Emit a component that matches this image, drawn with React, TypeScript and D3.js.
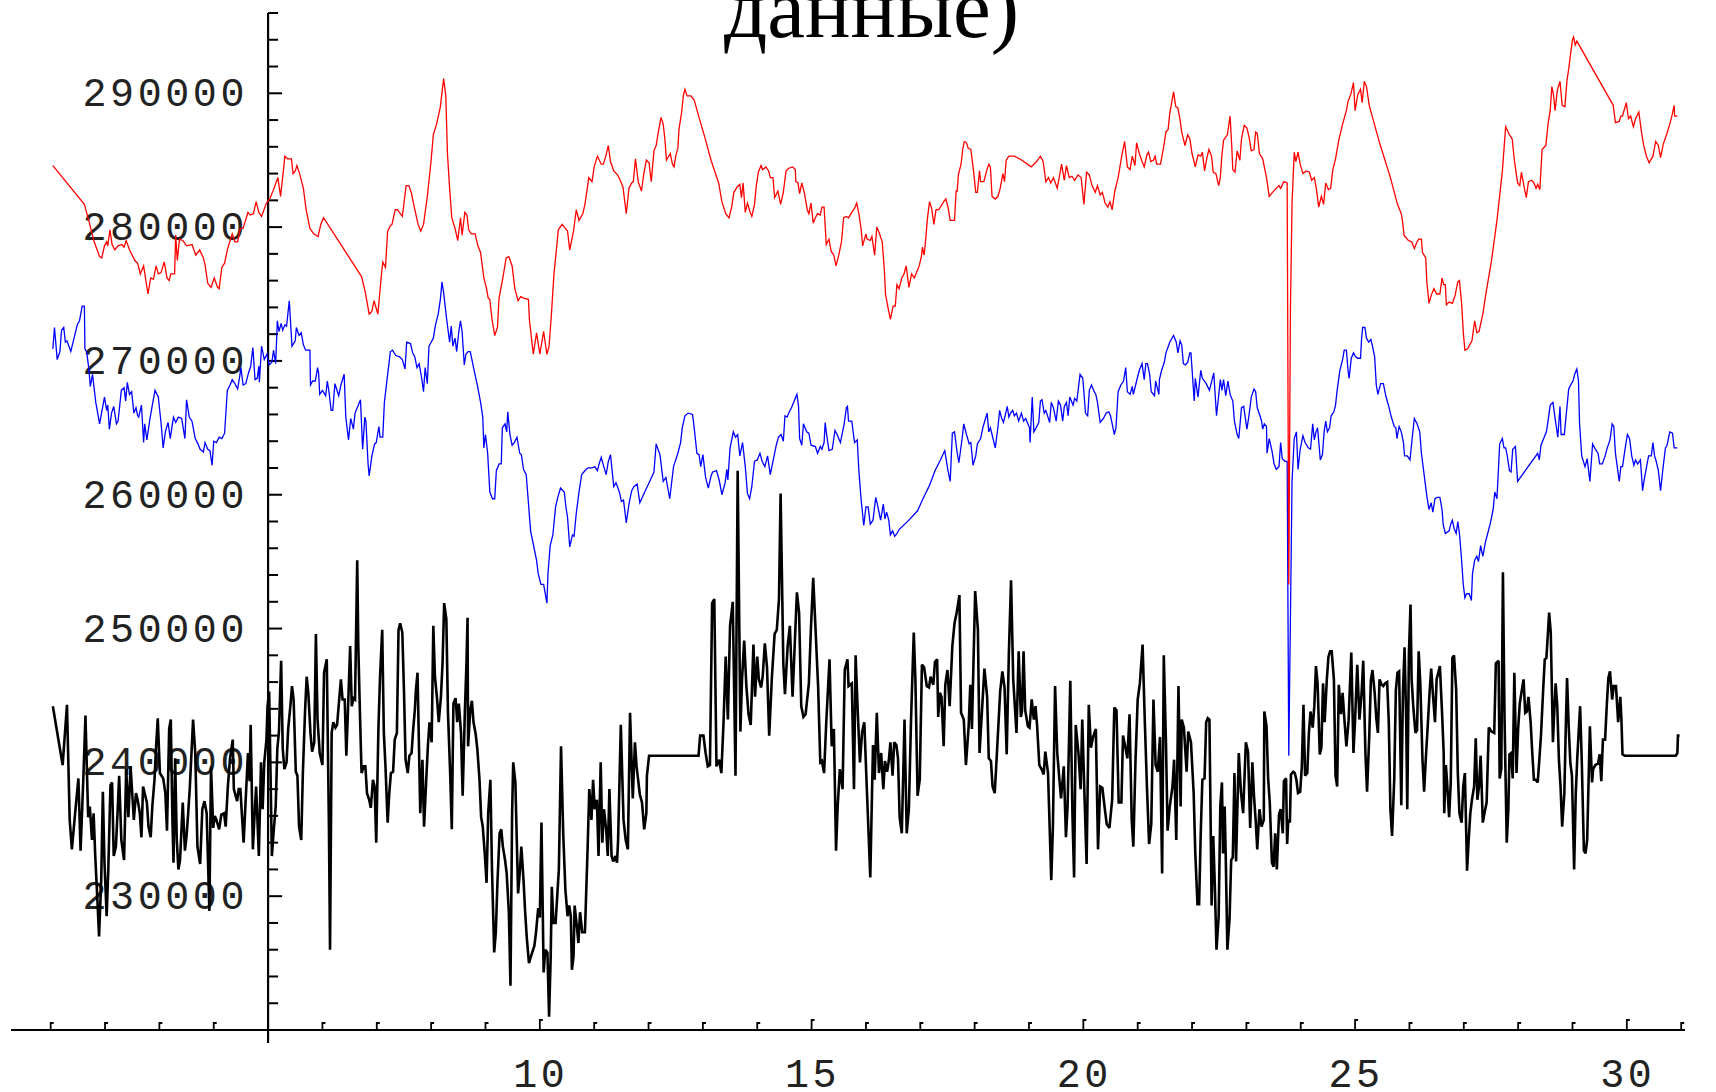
import * as d3 from 'd3'
import { useEffect, useRef } from 'react'

const W = 1716
const H = 1092

const titleText = 'данные)'
const xTickLabels = [10, 15, 20, 25, 30]
const yTickLabels = [230000, 240000, 250000, 260000, 270000, 280000, 290000]

// [day, value]
const red: [number, number][] = [
  [1.04,284600],[1.62,281700],[1.70,280500],[1.80,278900],[1.90,277800],[1.94,277700],[1.99,278600],[2.03,278900],[2.05,278600],[2.09,279800],[2.13,278700],[2.18,278300],[2.24,278600],[2.31,278700],[2.35,278500],[2.39,279000],[2.45,278300],[2.55,277500],[2.60,277300],[2.65,276500],[2.71,277100],[2.79,275000],[2.84,276200],[2.89,276100],[2.94,277100],[2.98,276500],[3.03,276600],[3.09,277400],[3.14,276200],[3.18,276000],[3.21,276500],[3.28,276500],[3.30,279400],[3.33,277500],[3.37,279100],[3.43,279000],[3.50,278600],[3.60,278700],[3.67,277900],[3.74,278300],[3.81,277700],[3.84,277200],[3.89,275800],[3.95,275500],[4.01,276200],[4.07,275500],[4.10,275400],[4.15,277000],[4.20,277300],[4.25,278300],[4.34,279500],[4.39,278900],[4.44,278900],[4.49,279900],[4.54,279900],[4.63,281100],[4.67,280900],[4.73,281000],[4.78,281900],[4.83,281100],[4.88,280800],[4.97,281800],[5.03,282100],[5.10,282800],[5.18,283700],[5.23,282300],[5.31,285300],[5.36,285100],[5.43,285100],[5.46,284000],[5.50,284200],[5.53,284600],[5.58,284000],[5.65,282900],[5.70,281300],[5.77,279900],[5.84,279500],[5.92,279300],[5.97,280200],[6.02,280700],
  [6.72,276300],[6.79,275100],[6.86,273500],[6.91,273700],[6.95,274500],[7.02,273500],[7.08,276200],[7.11,277400],[7.16,277000],[7.20,279700],[7.25,280100],[7.28,280200],[7.34,281300],[7.38,281300],[7.47,280800],[7.54,283100],[7.59,283100],[7.64,282500],[7.69,281500],[7.76,280200],[7.81,279700],[7.86,280200],[7.93,282300],[8.00,285000],[8.04,286900],[8.10,287700],[8.17,289000],[8.23,291100],[8.27,289800],[8.30,285500],[8.34,282900],[8.38,280700],[8.44,279900],[8.49,279000],[8.54,280700],[8.57,279400],[8.62,281100],[8.66,280900],[8.69,279800],[8.74,279500],[8.81,279500],[8.86,278600],[8.91,278100],[8.97,276200],[9.02,275400],[9.05,274700],[9.08,274600],[9.12,273100],[9.17,271900],[9.22,272500],[9.25,274700],[9.32,276200],[9.38,277700],[9.43,277800],[9.49,277100],[9.54,275400],[9.60,274500],[9.65,274800],[9.70,274700],[9.79,274600],[9.81,273000],[9.88,270500],[9.94,272100],[10.00,270500],[10.07,272200],[10.13,270500],[10.17,271100],[10.21,273300],[10.26,276500],[10.31,278500],[10.34,279800],[10.41,280200],[10.47,279900],[10.51,279700],[10.55,278300],[10.62,279700],[10.67,281300],[10.72,280500],[10.79,281000],[10.83,281700],[10.87,282800],[10.90,283700],[10.96,283400],[11.00,284500],[11.06,285300],[11.13,284700],[11.17,284700],[11.22,285400],[11.26,286100],[11.30,284900],[11.36,284200],[11.43,283900],
  [11.48,283500],[11.53,283000],[11.59,281000],[11.64,282900],[11.69,283300],[11.72,283400],[11.76,285100],[11.81,283400],[11.87,282700],[11.91,283900],[11.96,285000],[12.01,284800],[12.05,283400],[12.10,285700],[12.14,286100],[12.18,287100],[12.23,288200],[12.27,287700],[12.30,286600],[12.33,285000],[12.40,285500],[12.44,284700],[12.47,284500],[12.50,285300],[12.54,285900],[12.56,287300],[12.61,288600],[12.64,289800],[12.67,290300],[12.71,289800],[12.78,289800],[12.84,289500],[12.95,287900],[13.05,286500],[13.15,285000],[13.29,283300],[13.35,281900],[13.42,281000],[13.48,280700],[13.53,281500],[13.57,282600],[13.63,283000],[13.68,283200],[13.71,282200],[13.74,283300],[13.78,281100],[13.82,281800],[13.87,281100],[13.90,280800],[13.95,281700],[13.98,283000],[14.02,284100],[14.07,284600],[14.10,284300],[14.16,284500],[14.21,284200],[14.24,283700],[14.29,283700],[14.32,282200],[14.38,282700],[14.43,281700],[14.48,282600],[14.53,284200],[14.58,284400],[14.65,284500],[14.70,284300],[14.71,283400],[14.75,283300],[14.78,282500],[14.82,283300],[14.87,282500],[14.92,281300],[14.95,281000],[14.99,281800],[15.03,280300],[15.07,280700],[15.11,281000],[15.16,280900],[15.19,281500],[15.23,281500],[15.27,278700],[15.32,279100],[15.36,278200],[15.41,277900],[15.45,277100],[15.50,277900],[15.55,278900],[15.59,280700],[15.64,280800],[15.68,280700],[15.74,281100],[15.79,281400],[15.83,281800],[15.87,281000],[15.91,279900],[15.94,278600],[16.00,279500],[16.02,279100],[16.08,279000],[16.11,279300],[16.16,277900],[16.20,280000],[16.25,279500],[16.30,278900],[16.34,276700],[16.36,275000],[16.40,274100],[16.45,273100],[16.50,274100],[16.54,274100],[16.57,275700],[16.61,275400],[16.66,276200],[16.70,276500],[16.74,277100],[16.79,275500],[16.84,276500],[16.89,276200],[16.94,276700],[16.98,277100],[17.02,277800],[17.04,278500],[17.07,277900],[17.10,279100],[17.13,280600],[17.17,281900],[17.21,281400],[17.25,280200],[17.29,281300],[17.34,281300],[17.37,281500],[17.43,281900],[17.47,282100],[17.51,281500],[17.55,280500],[17.63,280500],[17.66,282700],[17.68,282700],[17.70,283900],[17.75,284700],[17.78,285800],[17.81,286400],[17.85,286300],[17.88,285900],[17.93,285800],[17.98,284200],[18.02,282600],[18.05,282600],[18.09,284200],[18.11,283400],[18.17,283400],[18.22,284200],[18.26,284700],[18.29,284500],[18.32,282300],[18.38,282100],[18.43,282300],[18.47,282900],[18.52,284000],[18.55,283400],[18.58,285000],[18.63,285300],[18.73,285300],[18.87,285000],[19.04,284500],[19.14,284900],[19.21,285300],[19.26,284900],[19.31,283400],[19.36,283700],[19.40,283300],[19.45,283700],[19.52,282900],[19.56,283800],[19.60,284700],[19.65,283500],[19.69,284600],[19.74,283700],[19.79,283800],[19.84,283500],[19.90,283900],[19.96,283700],[20.01,281700],[20.06,284100],[20.11,283900],[20.16,283100],[20.22,282600],[20.26,283100],[20.31,282400],[20.35,282600],[20.40,281800],[20.45,281500],[20.49,281900],[20.53,281300],[20.58,282700],[20.64,283700],[20.71,285400],[20.76,286400],[20.81,284500],[20.86,284300],[20.90,285300],[20.95,284600],[20.98,286300],[21.03,285500],[21.08,284900],[21.12,284500],[21.17,285400],[21.20,285600],[21.24,284900],[21.29,285000],[21.32,285300],[21.35,284700],[21.42,284700],[21.47,285800],[21.52,287100],[21.56,287300],[21.59,288500],[21.66,290100],[21.70,289000],[21.74,288900],
  [21.78,288000],[21.81,287100],[21.87,286100],[21.92,286900],[21.96,286600],[22.00,285500],[22.06,284500],[22.11,285400],[22.16,285300],[22.19,285600],[22.23,284200],[22.27,285100],[22.31,285800],[22.36,285300],[22.39,284100],[22.44,284000],[22.49,283100],[22.52,283700],[22.55,285400],[22.58,286500],[22.65,286900],[22.70,288300],[22.73,286100],[22.75,284300],[22.79,284100],[22.83,285700],[22.88,285000],[22.91,286600],[22.96,287600],[23.01,287400],[23.05,286700],[23.09,285700],[23.14,285800],[23.17,287100],[23.20,287000],[23.24,285500],[23.30,285100],[23.37,283700],[23.42,282300],[23.48,282600],[23.60,283100],[23.63,282900],[23.69,283400],[23.75,283300],[23.78,253300],[23.81,273800],[23.84,281800],[23.88,285600],[23.91,284900],[23.95,285600],[23.99,284700],[24.04,284000],[24.10,284200],[24.16,284100],[24.20,283500],[24.25,283700],[24.29,282800],[24.33,281500],[24.38,282300],[24.42,281700],[24.46,283300],[24.51,282800],[24.55,282900],[24.59,284300],[24.64,285100],[24.70,286500],[24.77,287700],[24.84,288700],[24.87,289400],[24.92,289900],[24.97,290800],[25.00,288700],[25.05,289900],[25.10,290300],[25.13,289300],[25.17,290900],[25.21,290500],[25.26,289100],[25.45,286300],[25.65,283700],[25.78,281700],[25.85,281000],[25.88,280200],[25.90,279400],[25.98,279000],[26.04,278900],[26.09,278400],[26.14,278900],[26.17,279100],[26.22,279100],[26.24,278100],[26.30,277700],[26.32,275900],[26.36,274300],[26.40,274900],[26.45,275400],[26.50,275000],[26.56,275000],[26.60,276200],[26.63,275700],[26.66,275700],[26.68,274200],[26.73,274400],[26.79,274300],[26.84,274900],[26.89,275900],[26.92,276000],[26.96,274300],[26.99,272200],[27.02,270800],[27.07,270900],[27.15,271500],[27.20,273000],[27.24,272100],[27.28,272200],[27.35,273500],[27.41,275100],[27.51,277500],[27.61,280500],[27.71,284200],[27.77,287500],[27.84,286900],[27.89,286600],[27.93,285000],[27.99,283300],[28.03,283100],[28.06,284100],[28.11,283000],[28.15,282200],[28.19,283400],[28.25,283500],[28.29,283300],[28.33,282900],[28.36,283200],[28.40,282800],[28.44,285800],[28.51,286100],[28.55,287700],[28.59,288700],[28.62,290500],[28.65,289900],[28.68,288700],[28.72,290200],[28.77,290900],[28.81,289100],[28.86,289000],[28.90,291000],[28.93,291800],[28.96,292800],[29.00,294000],[29.02,294200],[29.05,293600],[29.08,293900],[29.75,289100],[29.79,287800],[29.86,287900],[29.89,288300],[29.92,288300],[29.99,289300],[30.03,288100],[30.07,288300],[30.12,287500],[30.16,288100],[30.22,288600],[30.27,287100],[30.31,286100],[30.36,285300],[30.41,284800],[30.48,285300],[30.53,286400],[30.58,286100],[30.62,285200],[30.67,286200],[30.73,286900],[30.79,287700],[30.84,288500],[30.87,289100],[30.88,288300],[30.93,288300],
]

const blue: [number, number][] = [
  [1.04,270900],[1.07,272500],[1.12,270100],[1.17,270700],[1.20,272300],[1.24,272500],[1.27,271400],[1.30,271500],[1.37,270700],[1.43,271700],[1.49,272700],[1.53,273000],[1.58,274100],[1.62,274100],[1.63,270900],[1.66,270700],[1.70,269500],[1.73,268100],[1.77,269000],[1.83,266900],[1.90,265300],[1.94,266200],[1.99,267300],[2.03,266300],[2.05,266700],[2.08,264900],[2.12,266100],[2.16,266600],[2.21,265300],[2.24,265500],[2.30,267800],[2.35,268000],[2.38,267000],[2.41,268400],[2.45,267500],[2.49,267700],[2.53,266100],[2.57,266500],[2.60,265900],[2.62,265800],[2.67,266700],[2.71,263900],[2.73,265300],[2.77,264100],[2.82,265500],[2.87,266700],[2.92,267800],[2.98,267300],[3.03,265400],[3.07,263500],[3.11,264700],[3.16,265400],[3.20,264200],[3.24,265300],[3.26,265800],[3.30,265400],[3.35,265800],[3.41,265700],[3.47,264200],[3.50,267100],[3.55,265800],[3.60,265500],[3.66,264200],[3.71,263800],[3.75,263400],[3.81,263200],[3.84,263900],[3.89,263400],[3.93,263300],[3.97,262200],[4.00,264000],[4.05,263900],[4.10,264300],[4.15,264200],[4.20,264600],[4.25,267800],[4.30,268200],[4.34,268600],[4.39,268300],[4.44,267900],[4.48,268900],[4.50,269500],[4.54,268200],[4.59,268300],[4.64,269100],[4.68,269600],[4.72,271000],[4.76,268600],[4.80,268700],[4.83,269600],[4.84,268400],[4.88,271100],[4.93,270100],[4.98,270500],[5.02,269700],[5.07,269900],[5.10,270800],[5.14,269800],[5.17,273000],[5.20,272200],[5.24,272800],[5.27,272300],[5.31,272700],[5.34,272600],[5.39,274500],[5.44,271100],[5.50,271500],[5.52,272500],[5.57,271900],[5.61,272100],[5.65,271200],[5.69,270800],[5.77,270800],[5.78,268200],[5.82,268500],[5.87,268500],[5.91,269500],[5.93,269100],[5.95,267500],[6.00,267800],[6.06,267400],[6.09,268500],[6.12,267700],[6.16,266300],[6.19,266300],[6.23,268300],[6.26,267900],[6.30,267400],[6.34,268200],[6.40,269000],[6.43,265800],[6.48,264100],[6.52,265700],[6.57,264900],[6.60,266100],[6.65,266600],[6.70,267100],[6.74,263400],[6.78,265800],[6.80,265500],[6.84,262300],[6.86,261400],[6.91,262900],[6.96,263800],[6.99,263900],[7.04,265100],[7.06,264300],[7.11,264300],[7.14,266900],[7.20,269000],[7.25,270700],[7.29,270800],[7.35,270400],[7.42,270300],[7.47,270100],[7.52,269400],[7.55,271400],[7.62,271300],[7.66,270600],[7.70,270300],[7.74,269500],[7.78,269800],[7.83,268600],[7.86,267700],[7.89,269500],[7.93,268300],[7.96,271100],[8.00,271400],[8.04,271700],[8.08,272700],[8.13,273500],[8.17,274600],[8.20,275900],[8.23,275100],[8.28,273300],[8.34,271400],[8.37,272600],[8.40,271100],[8.44,271700],[8.47,270700],[8.51,272200],[8.54,273000],[8.57,272200],[8.61,269700],[8.64,270500],[8.68,270700],[8.72,270700],[8.78,269500],[8.85,268200],[8.91,266900],[8.95,265800],[8.97,263500],[9.00,264500],[9.04,263100],[9.08,260200],[9.13,259700],[9.17,259700],[9.20,261800],[9.25,262300],[9.29,262300],[9.31,265000],[9.36,265300],[9.39,264700],[9.41,266200],[9.45,264500],[9.49,263700],[9.53,263900],[9.58,264300],[9.63,263100],[9.66,263000],[9.70,261900],[9.75,261500],[9.79,259400],[9.83,257300],[9.88,256300],[9.94,255100],[9.97,254100],[10.02,253300],[10.07,253300],[10.13,251900],[10.15,254100],[10.19,256200],[10.24,257000],[10.29,259100],[10.33,259800],[10.38,260500],[10.45,260200],[10.48,259100],[10.51,258300],[10.55,256100],[10.60,257000],[10.63,256900],[10.67,258600],[10.72,260200],[10.77,261500],[10.81,261700],[10.85,261900],[10.89,262000],[10.96,262000],[11.01,262100],[11.06,261800],[11.09,262300],[11.13,262800],[11.17,262200],[11.22,261500],[11.26,262500],[11.30,263000],[11.33,261800],[11.36,260600],[11.40,260900],[11.43,260600],[11.47,260100],
  [11.50,259500],[11.54,259600],[11.59,257900],[11.64,259300],[11.69,260300],[11.73,260600],[11.79,260800],[11.84,259400],[11.93,260200],[12.01,260900],[12.10,261700],[12.14,263800],[12.21,263000],[12.27,261000],[12.32,261300],[12.39,259700],[12.46,262100],[12.54,263100],[12.59,263900],[12.62,265000],[12.67,265900],[12.73,266100],[12.81,266000],[12.84,265000],[12.89,263100],[12.93,263000],[12.96,262100],[13.00,263000],[13.05,261300],[13.10,260500],[13.15,261400],[13.18,261700],[13.25,261800],[13.30,261100],[13.35,260000],[13.41,260900],[13.44,261900],[13.46,261100],[13.50,263500],[13.56,264700],[13.60,264300],[13.64,264500],[13.68,262900],[13.73,263900],[13.78,262100],[13.82,260100],[13.86,259700],[13.90,260600],[13.95,262500],[14.00,262600],[14.05,263100],[14.09,262500],[14.14,262100],[14.19,262900],[14.24,261500],[14.27,262100],[14.31,262900],[14.35,263700],[14.39,264300],[14.44,264500],[14.48,264000],[14.51,265900],[14.55,265800],[14.59,266200],[14.63,266500],[14.68,267000],[14.73,267500],[14.76,266600],[14.78,264200],[14.82,263700],[14.85,265300],[14.91,264700],[14.95,264600],[14.99,263700],[15.07,263600],[15.11,263100],[15.16,263600],[15.19,263400],[15.23,263900],[15.25,265400],[15.27,264700],[15.32,263300],[15.38,263400],[15.43,264800],[15.47,264500],[15.53,263900],[15.57,264700],[15.60,265300],[15.64,266500],[15.66,266600],[15.68,265500],[15.74,265500],[15.79,263900],[15.84,264100],[15.87,261800],[15.91,259700],[15.96,257700],[16.00,259100],[16.04,259100],[16.08,257800],[16.13,258100],[16.18,259800],[16.21,259300],[16.27,258100],[16.32,259300],[16.35,258200],[16.38,258700],[16.42,258100],[16.45,257000],[16.49,257300],[16.53,256900],[16.57,257100],[16.61,257400],[16.79,258100],[16.95,258800],[17.06,259800],[17.17,260700],[17.27,261800],[17.37,262600],[17.45,263300],[17.51,261800],[17.55,261000],[17.59,264600],[17.63,264700],[17.68,263100],[17.71,262400],[17.77,264200],[17.80,265300],[17.85,264500],[17.90,263800],[17.93,263900],[17.97,262200],[18.02,262900],[18.05,263800],[18.11,264200],[18.15,265000],[18.20,265700],[18.23,266100],[18.26,264700],[18.29,265000],[18.32,264500],[18.38,263500],[18.43,265100],[18.46,266300],[18.49,265800],[18.53,265400],[18.56,265900],[18.60,266600],[18.63,265800],[18.66,266100],[18.70,266300],[18.73,265900],[18.77,266100],[18.81,265500],[18.86,266100],[18.90,265500],[18.94,265700],[18.97,265400],[19.01,265000],[19.02,263900],[19.06,267300],[19.09,264700],[19.13,265000],[19.18,265400],[19.21,267000],[19.24,267100],[19.28,266100],[19.31,266300],[19.35,265800],[19.38,265400],[19.41,266900],[19.45,266500],[19.50,265500],[19.54,267000],[19.58,266700],[19.62,265500],[19.65,266600],[19.69,266900],[19.72,265900],[19.75,267300],[19.81,266700],[19.84,267200],[19.88,267000],[19.94,269000],[19.99,268700],[20.04,266100],[20.08,265900],[20.11,267800],[20.15,268200],[20.20,267700],[20.23,267500],[20.26,266900],[20.31,265400],[20.37,265700],[20.42,266100],[20.47,266200],[20.50,265900],[20.54,265100],[20.57,264500],[20.60,265000],[20.64,267700],[20.69,268200],[20.74,268500],[20.78,269500],[20.81,267700],[20.86,267500],[20.90,268100],[20.92,267500],[20.98,268500],[21.03,269300],[21.08,269800],[21.12,268600],[21.15,269800],[21.18,269800],[21.22,269000],[21.25,267700],[21.31,267400],[21.33,268500],[21.39,267500],[21.40,268600],[21.44,269300],[21.49,269900],[21.52,270600],[21.59,271400],[21.66,271900],[21.71,271400],[21.74,270600],
  [21.78,271500],[21.81,271200],[21.84,269800],[21.88,269700],[21.92,269900],[21.96,270600],[21.98,270600],[22.04,267000],[22.06,268700],[22.11,267300],[22.16,269300],[22.19,268700],[22.26,268300],[22.32,267800],[22.40,269100],[22.45,265900],[22.49,267400],[22.52,268600],[22.55,267800],[22.58,268600],[22.62,267400],[22.66,268500],[22.70,267500],[22.75,267000],[22.78,265500],[22.83,264500],[22.86,264200],[22.91,266500],[22.95,266600],[23.01,264900],[23.04,265700],[23.09,267300],[23.14,267900],[23.17,267700],[23.20,266500],[23.25,265900],[23.28,265500],[23.30,264900],[23.33,265300],[23.37,265100],[23.38,263100],[23.42,264200],[23.47,263300],[23.51,262300],[23.55,261900],[23.60,262100],[23.63,263900],[23.66,262700],[23.71,262500],[23.75,262500],[23.78,240500],[23.84,261000],[23.88,264200],[23.92,264700],[23.95,261900],[23.99,263400],[24.04,264400],[24.08,263900],[24.14,263500],[24.18,263400],[24.22,265300],[24.25,264100],[24.28,264700],[24.31,265000],[24.36,262600],[24.40,263000],[24.43,264700],[24.46,265500],[24.49,264700],[24.53,265000],[24.56,265900],[24.61,266200],[24.64,266700],[24.67,267800],[24.72,269300],[24.77,270100],[24.80,270800],[24.84,270800],[24.87,269300],[24.89,268700],[24.93,270200],[24.97,270600],[25.01,270300],[25.05,270200],[25.10,270200],[25.12,271700],[25.14,272500],[25.18,272500],[25.21,271700],[25.25,271400],[25.29,271600],[25.32,271100],[25.36,270300],[25.39,268200],[25.42,267500],[25.47,268300],[25.52,268300],[25.57,267300],[25.62,266600],[25.66,265900],[25.72,265100],[25.75,265000],[25.77,264200],[25.81,265100],[25.85,264700],[25.89,263900],[25.91,262900],[25.96,262900],[26.01,262600],[26.05,264200],[26.09,265700],[26.14,265300],[26.19,264700],[26.22,263100],[26.27,261500],[26.32,259900],[26.36,258900],[26.40,259400],[26.43,258700],[26.47,259700],[26.51,259800],[26.56,259800],[26.60,258900],[26.62,257800],[26.66,257100],[26.73,257300],[26.76,257800],[26.79,258100],[26.82,257500],[26.86,257100],[26.89,258000],[26.92,257100],[26.96,255100],[26.99,253300],[27.02,252300],[27.05,252600],[27.10,252600],[27.14,252100],[27.16,254100],[27.20,255100],[27.24,255400],[27.27,255000],[27.31,256200],[27.35,255400],[27.40,256500],[27.44,257100],[27.49,257900],[27.54,258900],[27.57,260200],[27.61,259700],[27.64,262100],[27.66,263800],[27.71,264200],[27.74,263500],[27.77,263500],[27.80,262900],[27.84,261800],[27.87,261700],[27.90,263400],[27.95,263600],[27.99,261000],[28.36,263100],[28.39,262600],[28.42,263700],[28.47,264200],[28.52,264700],[28.55,265500],[28.59,266700],[28.64,266900],[28.68,265700],[28.73,264300],[28.77,266600],[28.79,264500],[28.85,264500],[28.88,265800],[28.93,267900],[28.98,268300],[29.01,268500],[29.04,269000],[29.08,269400],[29.11,268500],[29.13,265300],[29.17,262900],[29.23,262100],[29.27,262700],[29.32,261000],[29.37,263800],[29.42,263400],[29.47,263100],[29.50,262300],[29.55,262300],[29.60,262900],[29.64,263500],[29.69,264100],[29.73,265300],[29.76,265100],[29.79,263100],[29.83,261900],[29.86,261000],[29.89,262100],[29.92,262100],[29.97,263500],[30.01,264500],[30.05,264200],[30.09,262900],[30.13,262200],[30.16,262600],[30.20,262300],[30.25,262600],[30.29,260300],[30.31,260900],[30.35,261800],[30.40,262900],[30.45,262900],[30.48,263900],[30.51,262900],[30.54,262500],[30.58,261800],[30.62,260300],[30.66,261800],[30.71,263500],[30.74,263700],[30.79,264700],[30.84,264600],[30.87,263500],[30.93,263500],
]

const black: [number, number][] = [
  [1.04,244200],[1.22,239800],[1.30,244300],[1.35,235700],[1.39,233500],[1.45,236200],[1.51,238800],[1.55,233400],[1.60,238700],[1.64,243500],[1.69,235900],[1.72,236700],[1.76,234200],[1.79,236200],[1.82,233000],[1.86,229700],[1.89,227000],[1.93,231200],[1.96,237800],[1.99,232500],[2.03,228500],[2.06,232000],[2.10,238300],[2.13,238500],[2.16,233000],[2.20,233700],[2.23,236200],[2.26,239000],[2.30,234200],[2.35,232700],[2.39,239500],[2.43,235900],[2.47,239700],[2.50,237700],[2.53,235700],[2.57,237700],[2.60,237200],[2.64,236200],[2.67,234400],[2.70,238200],[2.74,237500],[2.77,237000],[2.80,235200],[2.84,234400],[2.87,236700],[2.91,238700],[2.94,241200],[2.97,243300],[3.01,239200],[3.04,239000],[3.07,238800],[3.11,237700],[3.14,234900],[3.18,242500],[3.21,243200],[3.24,235700],[3.26,232500],[3.29,240300],[3.32,234200],[3.35,232000],[3.38,232700],[3.43,237000],[3.47,233400],[3.50,234500],[3.53,236200],[3.56,238100],[3.62,243200],[3.66,240700],[3.70,233700],[3.75,232400],[3.79,236500],[3.83,237100],[3.87,236200],[3.92,228900],[3.95,239700],[3.99,235100],[4.02,236000],[4.05,235700],[4.10,235000],[4.14,236100],[4.19,236200],[4.22,235200],[4.26,238200],[4.30,240300],[4.35,241700],[4.37,238000],[4.43,237100],[4.46,238000],[4.49,238000],[4.55,234000],[4.60,238200],[4.63,240700],[4.66,238600],[4.68,242800],[4.72,233500],[4.75,236000],[4.78,238200],[4.83,233000],[4.87,240000],[4.90,236500],[4.93,240000],[4.97,241700],[4.99,244200],[5.02,245300],[5.07,233000],[5.10,234700],[5.14,236700],[5.17,241000],[5.20,242300],[5.24,247600],[5.27,241000],[5.30,239500],[5.34,240000],[5.37,242500],[5.41,244200],[5.44,245700],[5.47,244700],[5.51,239300],[5.54,239000],[5.57,235200],[5.61,234200],[5.64,239200],[5.68,243800],[5.71,246400],[5.74,245200],[5.78,242200],[5.81,240800],[5.85,241500],[5.88,249600],[5.91,243200],[5.95,240700],[6.00,239800],[6.03,246700],[6.08,247700],[6.12,235000],[6.14,226000],[6.17,242200],[6.20,243000],[6.24,242600],[6.27,242800],[6.30,244300],[6.34,246200],[6.37,244700],[6.41,244700],[6.44,240500],[6.47,243900],[6.51,248700],[6.54,244200],[6.57,244800],[6.60,244700],[6.64,255100],[6.66,248700],[6.69,243700],[6.72,239200],[6.76,239700],[6.79,239700],[6.82,237700],[6.86,237200],[6.89,236600],[6.93,238700],[6.96,238200],[6.99,234000],[7.03,242500],[7.06,246400],[7.10,249900],[7.13,242200],[7.16,239700],[7.20,235500],[7.23,237700],[7.26,239200],[7.30,239300],[7.33,241700],[7.37,242200],[7.40,249900],[7.43,250400],[7.47,249700],[7.50,245400],[7.53,240200],[7.57,239200],[7.60,240500],[7.64,240700],[7.67,242500],[7.70,243900],[7.72,245400],[7.75,246700],[7.77,242500],[7.80,236200],[7.84,240200],[7.87,235200],[7.91,238700],[7.94,241200],[7.97,243000],[8.01,241500],[8.04,250200],[8.07,246400],[8.11,244700],[8.14,243000],[8.18,244900],[8.21,247400],[8.24,251900],[8.28,250700],[8.31,243700],[8.35,239200],[8.38,235000],[8.41,244400],[8.45,244800],[8.48,243000],[8.51,244400],[8.55,242200],[8.58,237500],[8.62,243700],[8.65,247400],[8.67,250800],[8.68,241200],[8.72,243900],[8.75,244600],[8.78,243000],[8.82,242100],[8.85,241000],[8.89,238700],[8.92,235900],[8.95,235200],[8.99,233000],[9.02,231000],[9.05,236200],[9.09,238700],[9.12,232000],[9.16,225800],[9.19,227300],[9.22,231000],[9.26,234700],[9.29,235000],[9.32,233700],[9.36,232700],[9.39,231700],[9.43,228800],[9.46,223300],[9.49,236200],[9.51,240000],[9.55,238500],[9.60,230200],[9.63,231700],[9.66,233700],[9.70,231200],[9.73,228800],[9.76,226900],[9.80,225000],[9.83,225400],[9.90,226300],[9.93,227300],[9.97,229100],[10.00,228400],[10.03,235500],[10.07,224300],[10.10,226000],[10.14,225800],[10.17,221000],[10.20,225500],[10.22,230700],[10.25,228000],[10.29,228000],[10.32,230000],[10.35,232000],[10.39,241200],[10.43,234700],[10.47,230500],[10.51,228500],[10.54,229300],[10.57,228500],[10.59,224500],[10.62,225500],[10.64,229300],[10.68,227800],[10.71,226500],[10.74,228800],[10.78,227300],[10.83,227300],[10.88,233700],[10.91,238000],[10.95,235700],[10.98,238700],[11.01,236500],[11.05,237200],[11.08,233000],[11.12,240000],[11.15,234000],[11.18,236500],[11.22,235000],[11.25,233000],[11.28,238000],[11.32,233000],[11.35,232600],[11.39,233000],[11.42,232500],
  [11.44,234200],[11.49,242800],[11.54,235700],[11.58,234200],[11.62,233500],[11.66,243700],[11.71,237300],[11.75,241500],[11.78,239700],[11.84,237600],[11.88,237000],[11.92,235000],[11.96,236200],[11.97,239000],[12.01,240500],[12.92,240500],[12.95,242000],[13.01,242000],[13.05,240700],[13.09,239700],[13.13,239800],[13.17,251900],[13.21,252200],[13.25,239700],[13.30,240200],[13.34,239200],[13.38,243000],[13.42,247900],[13.46,243200],[13.50,250200],[13.55,252000],[13.60,239000],[13.64,261800],[13.69,242300],[13.72,246200],[13.76,249100],[13.80,245700],[13.84,243600],[13.88,242800],[13.93,248800],[13.96,244900],[14.00,247900],[14.03,246200],[14.07,245600],[14.10,246400],[14.14,248900],[14.18,247100],[14.22,242000],[14.27,246400],[14.32,249600],[14.36,249900],[14.40,252200],[14.43,260100],[14.48,247400],[14.51,245100],[14.56,248700],[14.60,250200],[14.65,244900],[14.69,248800],[14.73,252700],[14.77,251200],[14.81,244200],[14.85,243400],[14.89,243600],[14.95,245900],[14.99,250200],[15.03,253800],[15.07,250200],[15.12,245700],[15.16,240000],[15.19,240100],[15.23,239200],[15.27,243000],[15.33,247700],[15.37,241200],[15.41,242500],[15.45,233400],[15.48,236700],[15.52,239500],[15.57,238000],[15.61,246900],[15.66,247700],[15.68,245700],[15.74,245900],[15.78,238000],[15.81,248000],[15.85,243700],[15.89,240000],[15.93,242300],[15.97,243000],[16.01,238700],[16.08,231400],[16.13,241300],[16.16,238700],[16.20,243700],[16.24,239200],[16.28,240700],[16.32,238000],[16.35,240100],[16.39,239300],[16.42,240100],[16.45,241500],[16.49,239000],[16.52,241500],[16.56,241300],[16.59,240300],[16.62,235900],[16.66,234700],[16.71,243200],[16.75,234700],[16.79,236500],[16.83,243200],[16.88,249700],[16.91,246200],[16.95,237500],[16.99,238700],[17.03,247300],[17.07,247100],[17.12,245700],[17.16,245600],[17.19,246400],[17.24,245800],[17.27,247500],[17.31,247700],[17.33,243400],[17.36,245200],[17.39,244900],[17.43,241200],[17.46,245800],[17.50,246900],[17.54,244200],[17.59,248700],[17.63,250400],[17.67,251200],[17.72,252500],[17.75,243700],[17.80,243200],[17.84,239800],[17.89,242700],[17.92,245800],[17.95,242500],[18.01,252800],[18.06,249900],[18.09,240700],[18.14,244200],[18.18,247000],[18.23,244900],[18.26,240300],[18.30,240100],[18.33,238200],[18.37,237700],[18.41,240700],[18.47,245300],[18.51,246800],[18.55,245600],[18.59,240600],[18.63,248200],[18.67,253600],[18.71,246200],[18.77,242200],[18.81,248300],[18.85,243400],[18.87,243800],[18.90,248300],[18.93,243900],[18.98,242700],[19.01,242600],[19.05,244700],[19.09,243200],[19.12,244200],[19.15,242700],[19.19,239800],[19.23,239500],[19.27,239100],[19.30,240800],[19.35,239200],[19.41,231200],[19.44,235200],[19.48,245700],[19.52,240700],[19.56,238700],[19.59,237300],[19.64,239700],[19.68,234400],[19.71,236700],[19.76,246100],[19.80,236000],[19.83,231400],[19.86,242800],[19.91,240700],[19.95,238000],[19.98,243200],[20.02,237700],[20.06,232400],[20.10,244300],[20.14,241100],[20.18,241900],[20.23,242500],[20.27,233500],[20.31,238200],[20.35,238100],[20.39,236700],[20.43,235400],[20.48,235100],[20.53,237200],[20.57,244100],[20.61,243900],[20.65,237000],[20.70,237000],[20.73,242000],[20.77,241200],[20.81,240300],[20.85,243600],[20.89,235700],[20.92,233700],[20.96,240200],[21.00,244700],[21.04,245900],[21.09,248800],[21.13,243200],[21.17,238200],[21.21,233900],[21.25,235400],[21.29,244700],[21.33,239800],[21.37,239300],[21.41,241900],[21.45,231700],[21.48,248000],[21.52,241500],[21.55,234900],[21.59,236700],[21.64,238200],[21.67,240200],[21.71,234200],[21.75,245700],[21.79,236700],
  [21.81,243200],[21.85,242600],[21.90,239300],[21.93,242300],[21.98,241500],[22.03,237700],[22.06,233200],[22.10,229400],[22.13,229400],[22.16,234700],[22.19,238700],[22.23,238800],[22.26,243000],[22.29,243300],[22.32,243200],[22.36,229300],[22.39,234500],[22.42,230700],[22.45,226000],[22.49,228500],[22.52,236700],[22.55,238500],[22.57,233200],[22.60,236700],[22.62,233000],[22.65,226000],[22.69,228300],[22.72,232700],[22.75,232900],[22.78,239200],[22.81,232600],[22.86,240700],[22.90,237800],[22.94,236200],[22.99,241500],[23.03,240800],[23.07,235100],[23.11,240000],[23.14,237500],[23.17,235700],[23.20,233500],[23.24,236500],[23.28,235200],[23.32,235700],[23.33,243800],[23.37,242700],[23.40,238800],[23.43,237000],[23.47,232500],[23.50,232200],[23.53,234700],[23.56,232000],[23.60,236100],[23.63,236500],[23.67,234700],[23.69,238600],[23.73,238800],[23.75,233900],[23.77,235700],[23.80,235500],[23.82,239100],[23.86,239300],[23.89,239200],[23.92,238700],[23.95,237700],[23.99,237800],[24.02,239700],[24.05,244300],[24.08,239000],[24.12,239200],[24.15,242200],[24.18,243800],[24.22,242600],[24.25,244200],[24.28,247200],[24.31,245900],[24.35,240600],[24.38,241100],[24.41,245900],[24.44,243000],[24.48,246200],[24.51,247900],[24.54,248300],[24.57,248300],[24.61,246200],[24.64,239000],[24.67,238200],[24.70,245800],[24.74,243600],[24.77,245200],[24.80,243400],[24.84,241200],[24.88,243100],[24.93,248200],[24.97,240700],[25.00,243200],[25.04,247300],[25.08,243200],[25.12,245200],[25.15,247600],[25.19,240700],[25.22,237800],[25.26,241900],[25.29,246100],[25.32,246900],[25.36,245200],[25.39,243300],[25.42,242200],[25.45,246200],[25.49,245800],[25.52,245700],[25.55,245900],[25.59,246000],[25.62,243000],[25.65,236500],[25.68,234500],[25.72,238700],[25.75,245400],[25.78,246700],[25.81,246800],[25.85,236800],[25.88,245200],[25.91,248600],[25.94,243200],[25.96,236500],[25.99,248100],[26.02,251800],[26.04,246200],[26.07,244200],[26.11,242200],[26.14,242400],[26.17,248300],[26.20,245900],[26.24,240200],[26.27,237800],[26.30,240200],[26.34,243000],[26.37,245200],[26.40,247000],[26.43,245200],[26.47,243000],[26.50,246200],[26.53,246700],[26.56,247200],[26.60,243700],[26.63,240700],[26.64,236200],[26.67,239800],[26.69,238700],[26.73,235900],[26.76,238500],[26.79,247800],[26.82,248000],[26.86,245400],[26.89,239200],[26.92,236200],[26.96,235500],[26.99,238200],[27.02,239200],[27.06,231900],[27.09,234200],[27.12,236200],[27.15,237200],[27.19,238200],[27.22,241800],[27.25,237200],[27.28,238200],[27.31,240500],[27.35,235500],[27.38,236200],[27.42,237000],[27.46,242600],[27.51,242300],[27.56,242200],[27.59,247400],[27.64,247600],[27.66,238800],[27.69,239500],[27.72,254200],[27.75,243200],[27.79,234000],[27.82,236500],[27.84,240600],[27.87,240700],[27.90,238800],[27.93,246700],[27.97,239200],[28.00,242500],[28.03,244400],[28.06,245200],[28.10,246200],[28.13,243700],[28.16,243800],[28.19,244900],[28.23,243000],[28.26,240700],[28.29,238700],[28.32,238700],[28.36,238500],[28.39,240200],[28.42,242000],[28.46,245400],[28.49,247700],[28.52,247800],[28.55,249800],[28.57,251200],[28.60,249700],[28.64,241500],[28.66,243400],[28.69,245900],[28.72,244200],[28.75,240200],[28.78,238200],[28.81,235200],[28.85,237700],[28.88,243200],[28.90,246300],[28.93,242700],[28.96,240000],[28.99,239000],[29.03,232000],[29.06,237700],[29.09,240500],[29.14,244200],[29.17,240200],[29.21,233400],[29.24,233200],[29.27,234200],[29.32,242700],[29.36,238500],[29.38,239500],[29.42,239800],[29.47,239900],[29.50,240600],[29.53,238600],[29.56,241700],[29.60,241700],[29.63,244200],[29.66,246300],[29.69,246800],[29.73,244700],[29.76,245700],[29.80,245700],[29.84,243000],[29.88,244900],[29.90,243200],[29.92,240600],[29.96,240500],[30.90,240500],[30.93,240700],[30.94,242000],[30.97,242000],
]

export default function App() {
  const ref = useRef<SVGSVGElement>(null)

  useEffect(() => {
    const svg = d3.select(ref.current)
    svg.selectAll('*').remove()

    const x = d3.scaleLinear().domain([0.27, 31.07]).range([11, 1685])
    const y = d3.scaleLinear().domain([220000, 296000]).range([1030, 13])
    const x0 = x(5)
    const y0 = y(220000)

    // title (only its last line falls inside the picture)
    svg.append('text')
      .attr('x', 724)
      .attr('y', 37)
      .attr('font-family', '"Liberation Serif", "Times New Roman", serif')
      .attr('font-size', 85)
      .attr('fill', 'black')
      .text(titleText)

    // tick labels sit under the lines
    const labelFont = '"Liberation Mono", "Courier New", monospace'
    svg.append('g')
      .selectAll('text')
      .data(yTickLabels)
      .join('text')
      .attr('x', x0 - 20)
      .attr('y', d => y(d) + 13)
      .attr('text-anchor', 'end')
      .attr('font-family', labelFont)
      .attr('font-size', 40)
      .attr('letter-spacing', 3.6)
      .attr('fill', '#222')
      .text(d => String(d))

    svg.append('g')
      .selectAll('text')
      .data(xTickLabels)
      .join('text')
      .attr('x', d => x(d) + 1)
      .attr('y', y0 + 57)
      .attr('text-anchor', 'middle')
      .attr('font-family', labelFont)
      .attr('font-size', 40)
      .attr('letter-spacing', 3.6)
      .attr('fill', '#222')
      .text(d => String(d))

    // axes
    const axes = svg.append('g').attr('stroke', 'black').attr('fill', 'none')
    axes.append('line')
      .attr('x1', x(0.27)).attr('x2', x(31.07))
      .attr('y1', y0).attr('y2', y0)
      .attr('stroke-width', 2.2)
    axes.append('line')
      .attr('x1', x0).attr('x2', x0)
      .attr('y1', y(296000)).attr('y2', y0 + 13)
      .attr('stroke-width', 2.2)

    const xTicks = d3.range(1, 32).filter(d => d !== 5)
    axes.selectAll('path.xt')
      .data(xTicks)
      .join('path')
      .attr('class', 'xt')
      .attr('stroke-width', 1.8)
      .attr('d', d => {
        const h = xTickLabels.includes(d) ? 10 : 7
        return `M${x(d)},${y0} V${y0 - h} h3`
      })

    const yTicks = d3.range(222000, 296001, 2000)
    axes.selectAll('line.yt')
      .data(yTicks)
      .join('line')
      .attr('class', 'yt')
      .attr('stroke-width', 2)
      .attr('x1', x0)
      .attr('x2', d => x0 + (d % 10000 === 0 ? 14 : 10))
      .attr('y1', d => y(d))
      .attr('y2', d => y(d))

    // series
    const line = d3.line<[number, number]>()
      .x(d => x(d[0]))
      .y(d => y(d[1]))

    svg.append('path')
      .datum(black)
      .attr('fill', 'none')
      .attr('stroke', 'black')
      .attr('stroke-width', 2.6)
      .attr('stroke-linejoin', 'miter')
      .attr('stroke-miterlimit', 2.5)
      .attr('d', line)

    svg.append('path')
      .datum(blue)
      .attr('fill', 'none')
      .attr('stroke', '#0000ff')
      .attr('stroke-width', 1.3)
      .attr('d', line)

    svg.append('path')
      .datum(red)
      .attr('fill', 'none')
      .attr('stroke', '#ff0000')
      .attr('stroke-width', 1.3)
      .attr('d', line)
  }, [])

  return (
    <svg
      ref={ref}
      width={W}
      height={H}
      style={{ position: 'absolute', left: 0, top: 0, background: 'white', display: 'block' }}
    />
  )
}
